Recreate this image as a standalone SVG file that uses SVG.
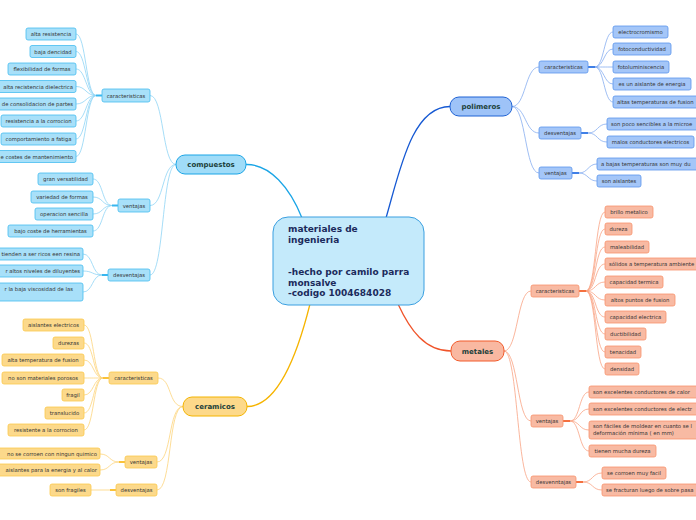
<svg xmlns="http://www.w3.org/2000/svg" width="696" height="520" viewBox="0 0 696 520">
<style>
text{font-family:"DejaVu Sans","Liberation Sans",sans-serif}
.t{font-size:5.3px;fill:#333}
.m{font-size:7px;font-weight:bold;fill:#1c3f3a;text-anchor:middle}
.c{font-size:9px;font-weight:bold;fill:#1b2a5c}
.bl{fill:#a8e0f9;stroke:#45bdf0;stroke-width:0.8}
.pl{fill:#a4c6f8;stroke:#5b95ec;stroke-width:0.8}
.ml{fill:#f8baa3;stroke:#f7936c;stroke-width:0.8}
.cl{fill:#fcd98b;stroke:#fbc94c;stroke-width:0.8}
.cb{fill:none;stroke:#8fd4f5;stroke-width:0.8}
.cp{fill:none;stroke:#86adf0;stroke-width:0.8}
.cm{fill:none;stroke:#f9a384;stroke-width:0.8}
.cc{fill:none;stroke:#fdd47c;stroke-width:0.8}
.mid{text-anchor:middle}
.end{text-anchor:end}
</style>
<g id="connectors">
<path d="M246,164.5 C270,164 290,188 302,218" fill="none" stroke="#1ba5e6" stroke-width="1.3"/>
<path d="M386,218 C400,170 412,106.5 450,106.5" fill="none" stroke="#1659d3" stroke-width="1.3"/>
<path d="M398,304 C410,330 425,351 451,351" fill="none" stroke="#f0542a" stroke-width="1.3"/>
<path d="M310,304 C296,360 276,406.5 247,406.5" fill="none" stroke="#f6b400" stroke-width="1.3"/>
<!-- compuestos -->
<path class="cb" d="M176,164.5 C162,164.5 164,95.5 150,95.5"/>
<path class="cb" d="M176,164.5 C162,164.5 164,205.5 150,205.5"/>
<path class="cb" d="M176,164.5 C162,164.5 164,275 150,275"/>
<path d="M96,95.5 H102" stroke="#38b6ee" stroke-width="2"/>
<path class="cb" d="M96,95.5 C86,95.5 86,34 76,34"/>
<path class="cb" d="M96,95.5 C86,95.5 86,51.5 76,51.5"/>
<path class="cb" d="M96,95.5 C86,95.5 86,69 76,69"/>
<path class="cb" d="M96,95.5 C86,95.5 86,86.5 76,86.5"/>
<path class="cb" d="M96,95.5 C86,95.5 86,104 76,104"/>
<path class="cb" d="M96,95.5 C86,95.5 86,121 76,121"/>
<path class="cb" d="M96,95.5 C86,95.5 86,139 76,139"/>
<path class="cb" d="M96,95.5 C86,95.5 86,156.5 76,156.5"/>
<path d="M112,205.5 H118" stroke="#38b6ee" stroke-width="2"/>
<path class="cb" d="M112,205.5 C102,205.5 103,179 93,179"/>
<path class="cb" d="M112,205.5 C102,205.5 103,197 93,197"/>
<path class="cb" d="M112,205.5 C102,205.5 103,214 93,214"/>
<path class="cb" d="M112,205.5 C102,205.5 103,231 93,231"/>
<path d="M102,275 H108" stroke="#38b6ee" stroke-width="2"/>
<path class="cb" d="M102,275 C92,275 93,254 83,254"/>
<path class="cb" d="M102,275 C92,275 93,271 83,271"/>
<path class="cb" d="M102,275 C92,275 93,292 83,292"/>
<!-- ceramicos -->
<path class="cc" d="M183,406.5 C168,406.5 172,378 158,378"/>
<path class="cc" d="M183,406.5 C168,406.5 172,462 157,462"/>
<path class="cc" d="M183,406.5 C168,406.5 172,490 157,490"/>
<path d="M103,378 H109" stroke="#f9c23a" stroke-width="2"/>
<path class="cc" d="M103,378 C93,378 94,325 84,325"/>
<path class="cc" d="M103,378 C93,378 94,343 84,343"/>
<path class="cc" d="M103,378 C93,378 94,360 84,360"/>
<path class="cc" d="M103,378 C93,378 94,378 84,378"/>
<path class="cc" d="M103,378 C93,378 94,395 84,395"/>
<path class="cc" d="M103,378 C93,378 94,413 84,413"/>
<path class="cc" d="M103,378 C93,378 94,430 84,430"/>
<path d="M119,462 H125" stroke="#f9c23a" stroke-width="2"/>
<path class="cc" d="M119,462 C109,462 110,454 100,454"/>
<path class="cc" d="M119,462 C109,462 110,470 100,470"/>
<path d="M110,490 H116" stroke="#f9c23a" stroke-width="2"/>
<path class="cc" d="M110,490 H91"/>
<!-- polimeros -->
<path class="cp" d="M512,106.5 C526,106.5 525,67 539,67"/>
<path class="cp" d="M512,106.5 C526,106.5 525,133 539,133"/>
<path class="cp" d="M512,106.5 C526,106.5 525,173 539,173"/>
<path d="M588,67 H595" stroke="#3f7fe6" stroke-width="2"/>
<path class="cp" d="M595,67 C604,67 604,32 613,32"/>
<path class="cp" d="M595,67 C604,67 604,49 613,49"/>
<path class="cp" d="M595,67 C604,67 604,67 613,67"/>
<path class="cp" d="M595,67 C604,67 604,84 613,84"/>
<path class="cp" d="M595,67 C604,67 604,102 613,102"/>
<path d="M581,133 H588" stroke="#3f7fe6" stroke-width="2"/>
<path class="cp" d="M588,133 C598,133 597,124 607,124"/>
<path class="cp" d="M588,133 C598,133 597,142 607,142"/>
<path d="M572,173 H579" stroke="#3f7fe6" stroke-width="2"/>
<path class="cp" d="M579,173 C588,173 588,164 597,164"/>
<path class="cp" d="M579,173 C588,173 588,181 597,181"/>
<!-- metales -->
<path class="cm" d="M504,351 C518,351 517,291 531,291"/>
<path class="cm" d="M504,351 C518,351 517,421 531,421"/>
<path class="cm" d="M504,351 C518,351 517,482 531,482"/>
<path d="M579,291 H586" stroke="#f4703f" stroke-width="2"/>
<path class="cm" d="M586,291 C596,291 595,212 605,212"/>
<path class="cm" d="M586,291 C596,291 595,229 605,229"/>
<path class="cm" d="M586,291 C596,291 595,247 605,247"/>
<path class="cm" d="M586,291 C596,291 595,264 605,264"/>
<path class="cm" d="M586,291 C596,291 595,282 605,282"/>
<path class="cm" d="M586,291 C596,291 595,300 605,300"/>
<path class="cm" d="M586,291 C596,291 595,317 605,317"/>
<path class="cm" d="M586,291 C596,291 595,334 605,334"/>
<path class="cm" d="M586,291 C596,291 595,352 605,352"/>
<path class="cm" d="M586,291 C596,291 595,369 605,369"/>
<path d="M563,421 H570" stroke="#f4703f" stroke-width="2"/>
<path class="cm" d="M570,421 C580,421 579,392 589,392"/>
<path class="cm" d="M570,421 C580,421 579,409 589,409"/>
<path class="cm" d="M570,421 C580,421 579,430 589,430"/>
<path class="cm" d="M570,421 C580,421 579,451 589,451"/>
<path d="M576,482 H583" stroke="#f4703f" stroke-width="2"/>
<path class="cm" d="M583,482 C593,482 592,473 602,473"/>
<path class="cm" d="M583,482 C593,482 592,490 602,490"/>
</g>
<g id="center">
<rect x="273" y="217" width="151" height="88" rx="15" fill="#c4eafb" stroke="#3a9fe0" stroke-width="1"/>
<text class="c" x="288"><tspan x="288" y="232">materiales de</tspan><tspan x="288" y="242.7">ingenieria</tspan><tspan x="288" y="275">-hecho por camilo parra</tspan><tspan x="288" y="285.7">monsalve</tspan><tspan x="288" y="296.4">-codigo 1004684028</tspan></text>
</g>
<g id="compuestos">
<rect x="176" y="155" width="70" height="19" rx="9" fill="#a0dcf8" stroke="#1ba5e6" stroke-width="1"/>
<text class="m" x="211" y="167">compuestos</text>
</g>
<g id="polimeros">
<rect x="450" y="97" width="62" height="19" rx="9" fill="#9ec3f8" stroke="#1f62d4" stroke-width="1"/>
<text class="m" x="481" y="109">polimeros</text>
</g>
<g id="metales">
<rect x="451" y="341" width="53" height="20" rx="9" fill="#f9b8a1" stroke="#f25a2a" stroke-width="1"/>
<text class="m" x="477.5" y="353.5">metales</text>
</g>
<g id="ceramicos">
<rect x="183" y="397" width="64" height="19" rx="9" fill="#fdd98a" stroke="#f4b400" stroke-width="1"/>
<text class="m" x="215" y="409">ceramicos</text>
</g>
<!-- compuestos subs -->
<g id="comp-car"><rect class="bl" x="102" y="89" width="48" height="13" rx="2"/><text class="t mid" x="126" y="97.5">caracteristicas</text></g>
<g id="comp-ven"><rect class="bl" x="118" y="199" width="32" height="13" rx="2"/><text class="t mid" x="134" y="207.5">ventajas</text></g>
<g id="comp-des"><rect class="bl" x="108" y="269" width="42" height="12" rx="2"/><text class="t mid" x="129" y="277">desventajas</text></g>
<g id="comp-l1"><rect class="bl" x="26" y="28" width="50" height="12" rx="2"/><text class="t mid" x="51" y="36">alta resistencia</text></g>
<g id="comp-l2"><rect class="bl" x="30" y="45.5" width="46" height="12" rx="2"/><text class="t mid" x="53" y="53.5">baja dencidad</text></g>
<g id="comp-l3"><rect class="bl" x="8" y="63" width="68" height="12" rx="2"/><text class="t mid" x="42" y="71">flexibilidad de formas</text></g>
<g id="comp-l4"><rect class="bl" x="-5" y="80.5" width="81" height="12" rx="2"/><text class="t end" x="73" y="88.5">alta recistencia dielectrica</text></g>
<g id="comp-l5"><rect class="bl" x="-5" y="98" width="81" height="12" rx="2"/><text class="t end" x="73" y="106">de consolidacion de partes</text></g>
<g id="comp-l6"><rect class="bl" x="1" y="115" width="75" height="12" rx="2"/><text class="t mid" x="38.5" y="123">resistencia a la corrocion</text></g>
<g id="comp-l7"><rect class="bl" x="1" y="133" width="75" height="12" rx="2"/><text class="t mid" x="38.5" y="141">comportamiento a fatiga</text></g>
<g id="comp-l8"><rect class="bl" x="-5" y="150.5" width="81" height="12" rx="2"/><text class="t end" x="73" y="158.5">e costes de mantenimiento</text></g>
<g id="comp-v1"><rect class="bl" x="38" y="173" width="55" height="12" rx="2"/><text class="t mid" x="65.5" y="181">gran versatilidad</text></g>
<g id="comp-v2"><rect class="bl" x="31" y="191" width="62" height="12" rx="2"/><text class="t mid" x="62" y="199">variedad de formas</text></g>
<g id="comp-v3"><rect class="bl" x="35" y="208" width="58" height="12" rx="2"/><text class="t mid" x="64" y="216">operacion sencilla</text></g>
<g id="comp-v4"><rect class="bl" x="8" y="225" width="85" height="12" rx="2"/><text class="t mid" x="50.5" y="233">bajo coste de herramientas</text></g>
<g id="comp-d1"><rect class="bl" x="-5" y="248" width="88" height="12" rx="2"/><text class="t end" x="80" y="256">tienden a ser ricos een resina</text></g>
<g id="comp-d2"><rect class="bl" x="-5" y="265" width="88" height="12" rx="2"/><text class="t end" x="80" y="273">r altos niveles de diluyentes</text></g>
<g id="comp-d3"><rect class="bl" x="-5" y="283" width="88" height="18" rx="2"/><text class="t end" x="73" y="291">r la baja viscosidad de las</text></g>
<!-- ceramicos subs -->
<g id="cer-car"><rect class="cl" x="109" y="372" width="49" height="12" rx="2"/><text class="t mid" x="133.5" y="380">caracteristicas</text></g>
<g id="cer-ven"><rect class="cl" x="125" y="456" width="32" height="12" rx="2"/><text class="t mid" x="141" y="464">ventajas</text></g>
<g id="cer-des"><rect class="cl" x="116" y="484" width="41" height="12" rx="2"/><text class="t mid" x="136.5" y="492">desventajas</text></g>
<g id="cer-l1"><rect class="cl" x="23" y="319" width="61" height="12" rx="2"/><text class="t mid" x="53.5" y="327">aislantes electricos</text></g>
<g id="cer-l2"><rect class="cl" x="53" y="337" width="31" height="12" rx="2"/><text class="t mid" x="68.5" y="345">durezas</text></g>
<g id="cer-l3"><rect class="cl" x="2" y="354" width="82" height="12" rx="2"/><text class="t mid" x="43" y="362">alta temperatura de fusion</text></g>
<g id="cer-l4"><rect class="cl" x="2" y="372" width="82" height="12" rx="2"/><text class="t mid" x="43" y="380">no son materiales porosos</text></g>
<g id="cer-l5"><rect class="cl" x="62" y="389" width="22" height="12" rx="2"/><text class="t mid" x="73" y="397">fragil</text></g>
<g id="cer-l6"><rect class="cl" x="45" y="407" width="39" height="12" rx="2"/><text class="t mid" x="64.5" y="415">translucido</text></g>
<g id="cer-l7"><rect class="cl" x="8" y="424" width="76" height="12" rx="2"/><text class="t mid" x="46" y="432">resistente a la corrocion</text></g>
<g id="cer-v1"><rect class="cl" x="-5" y="448" width="105" height="11" rx="2"/><text class="t end" x="97" y="455.5">no se corroen con ningun quimico</text></g>
<g id="cer-v2"><rect class="cl" x="-5" y="464" width="105" height="12" rx="2"/><text class="t end" x="97" y="472">aislantes para la energia y al calor</text></g>
<g id="cer-d1"><rect class="cl" x="50" y="484" width="41" height="12" rx="2"/><text class="t mid" x="70.5" y="492">son fragiles</text></g>
<!-- polimeros subs -->
<g id="pol-car"><rect class="pl" x="539" y="61" width="49" height="12" rx="2"/><text class="t mid" x="563.5" y="69">caracteristicas</text></g>
<g id="pol-des"><rect class="pl" x="539" y="127" width="42" height="12" rx="2"/><text class="t mid" x="560" y="135">desventajas</text></g>
<g id="pol-ven"><rect class="pl" x="539" y="167" width="33" height="12" rx="2"/><text class="t mid" x="555.5" y="175">ventajas</text></g>
<g id="pol-l1"><rect class="pl" x="613" y="26" width="55" height="12" rx="2"/><text class="t mid" x="640.5" y="34">electrocromismo</text></g>
<g id="pol-l2"><rect class="pl" x="613" y="43" width="58" height="12" rx="2"/><text class="t mid" x="642" y="51">fotoconductividad</text></g>
<g id="pol-l3"><rect class="pl" x="613" y="61" width="56" height="12" rx="2"/><text class="t mid" x="641" y="69">fotoluminiscencia</text></g>
<g id="pol-l4"><rect class="pl" x="613" y="78" width="78" height="12" rx="2"/><text class="t mid" x="652" y="86">es un aislante de energia</text></g>
<g id="pol-l5"><rect class="pl" x="613" y="96" width="95" height="12" rx="2"/><text class="t" x="617" y="104">altas temperaturas de fusion</text></g>
<g id="pol-d1"><rect class="pl" x="607" y="118" width="100" height="12" rx="2"/><text class="t" x="611" y="126">son poco sencibles a la microe</text></g>
<g id="pol-d2"><rect class="pl" x="607" y="136" width="87" height="12" rx="2"/><text class="t mid" x="650.5" y="144">malos conductores electricos</text></g>
<g id="pol-v1"><rect class="pl" x="597" y="158" width="110" height="12" rx="2"/><text class="t" x="601" y="166">a bajas temperaturas son muy du</text></g>
<g id="pol-v2"><rect class="pl" x="597" y="175" width="44" height="12" rx="2"/><text class="t mid" x="619" y="183">son aislantes</text></g>
<!-- metales subs -->
<g id="met-car"><rect class="ml" x="531" y="285" width="48" height="12" rx="2"/><text class="t mid" x="555" y="293">caracteristicas</text></g>
<g id="met-ven"><rect class="ml" x="531" y="415" width="32" height="12" rx="2"/><text class="t mid" x="547" y="423">ventajas</text></g>
<g id="met-des"><rect class="ml" x="531" y="476" width="45" height="12" rx="2"/><text class="t mid" x="553.5" y="484">desvenntajas</text></g>
<g id="met-l1"><rect class="ml" x="605" y="206" width="48" height="12" rx="2"/><text class="t mid" x="629" y="214">brillo metalico</text></g>
<g id="met-l2"><rect class="ml" x="605" y="223" width="27" height="12" rx="2"/><text class="t mid" x="618.5" y="231">dureza</text></g>
<g id="met-l3"><rect class="ml" x="605" y="241" width="44" height="12" rx="2"/><text class="t mid" x="627" y="249">maleabilidad</text></g>
<g id="met-l4"><rect class="ml" x="605" y="258" width="100" height="12" rx="2"/><text class="t" x="609" y="266">sólidos a temperatura ambiente</text></g>
<g id="met-l5"><rect class="ml" x="605" y="276" width="58" height="12" rx="2"/><text class="t mid" x="634" y="284">capacidad termica</text></g>
<g id="met-l6"><rect class="ml" x="605" y="294" width="70" height="12" rx="2"/><text class="t mid" x="640" y="302">altos puntos de fusion</text></g>
<g id="met-l7"><rect class="ml" x="605" y="311" width="61" height="12" rx="2"/><text class="t mid" x="635.5" y="319">capacidad electrica</text></g>
<g id="met-l8"><rect class="ml" x="605" y="328" width="41" height="12" rx="2"/><text class="t mid" x="625.5" y="336">ductibilidad</text></g>
<g id="met-l9"><rect class="ml" x="605" y="346" width="36" height="12" rx="2"/><text class="t mid" x="623" y="354">tenacidad</text></g>
<g id="met-l10"><rect class="ml" x="605" y="363" width="34" height="12" rx="2"/><text class="t mid" x="622" y="371">densidad</text></g>
<g id="met-v1"><rect class="ml" x="589" y="386" width="110" height="12" rx="2"/><text class="t" x="593" y="394">son excelentes conductores de calor</text></g>
<g id="met-v2"><rect class="ml" x="589" y="403" width="115" height="12" rx="2"/><text class="t" x="593" y="411">son excelentes conductores de electr</text></g>
<g id="met-v3"><rect class="ml" x="589" y="421" width="115" height="18" rx="2"/><text class="t" x="593" y="428">son fáciles de moldear en cuanto se l</text><text class="t" x="593" y="435">deformación mínima ( en mm)</text></g>
<g id="met-v4"><rect class="ml" x="589" y="445" width="67" height="12" rx="2"/><text class="t mid" x="622.5" y="453">tienen mucha dureza</text></g>
<g id="met-d1"><rect class="ml" x="602" y="467" width="64" height="12" rx="2"/><text class="t mid" x="634" y="475">se corroen muy facil</text></g>
<g id="met-d2"><rect class="ml" x="602" y="484" width="105" height="12" rx="2"/><text class="t" x="606" y="492">se fracturan luego de sobre pasa</text></g>
</svg>
